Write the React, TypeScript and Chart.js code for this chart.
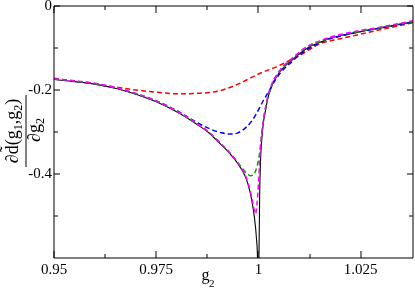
import React, { useEffect, useRef } from "react";
import { Chart, registerables } from "chart.js";
Chart.register(...registerables);

// Axis setup
const xMin = 0.95;
const xMax = 1.0378;
const yMin = -0.6;
const yMax = 0;
const xMajorTicks = [0.95, 0.975, 1.0, 1.025];
const xTickLabels = ["0.95", "0.975", "1", "1.025"];
const xMinorTicks = [0.9625, 0.9875, 1.0125];
const yMajorTicks = [0, -0.2, -0.4];
const yTickLabels = ["0", "-0.2", "-0.4"];
const yMinorTicks = [-0.1, -0.3, -0.5];

// Black solid curve
const blackG = [0.95, 0.955, 0.96, 0.965, 0.97, 0.975, 0.98, 0.985, 0.988, 0.99, 0.992, 0.994, 0.995, 0.996, 0.997, 0.998, 0.9985, 0.999, 0.9995, 0.9998, 1.0, 1.0001, 1.0003, 1.0005, 1.0008, 1.0012, 1.0018, 1.0024, 1.003, 1.0037, 1.0045, 1.0053, 1.0065, 1.0077, 1.009, 1.0105, 1.0125, 1.015, 1.0175, 1.02, 1.025, 1.03, 1.0378];
const blackV = [-0.175, -0.18, -0.186, -0.196, -0.21, -0.228, -0.252, -0.282, -0.303, -0.322, -0.341, -0.363, -0.376, -0.391, -0.411, -0.445, -0.47, -0.502, -0.552, -0.615, -0.8, -0.62, -0.45, -0.37, -0.32, -0.279, -0.245, -0.216, -0.198, -0.18, -0.168, -0.156, -0.143, -0.133, -0.122, -0.11, -0.097, -0.087, -0.077, -0.071, -0.061, -0.052, -0.038];

// Red dashed
const redG = [0.95, 0.955, 0.96, 0.965, 0.97, 0.975, 0.98, 0.985, 0.99, 0.995, 1.0, 1.005, 1.01, 1.015, 1.02, 1.025, 1.03, 1.0378];
const redV = [-0.172, -0.179, -0.186, -0.193, -0.2, -0.205, -0.209, -0.208, -0.203, -0.186, -0.162, -0.142, -0.118, -0.09, -0.078, -0.067, -0.056, -0.04];

// Blue dashed
const blueG = [0.95, 0.955, 0.96, 0.965, 0.97, 0.975, 0.98, 0.984, 0.988, 0.991, 0.9931, 0.995, 0.9972, 0.9985, 0.9996, 1.0004, 1.0012, 1.002, 1.0037, 1.0053, 1.0077, 1.01, 1.0125, 1.015, 1.0175, 1.02, 1.025, 1.03, 1.0378];
const blueV = [-0.174, -0.179, -0.185, -0.195, -0.209, -0.226, -0.249, -0.272, -0.292, -0.302, -0.305, -0.302, -0.287, -0.272, -0.255, -0.24, -0.225, -0.212, -0.183, -0.16, -0.137, -0.117, -0.1, -0.088, -0.078, -0.072, -0.061, -0.052, -0.038];

// Green dashed
const greenG = [0.95, 0.955, 0.96, 0.965, 0.97, 0.975, 0.98, 0.985, 0.988, 0.99, 0.992, 0.994, 0.995, 0.996, 0.997, 0.998, 0.9987, 0.9993, 1.0, 1.0005, 1.0008, 1.0012, 1.0018, 1.0024, 1.003, 1.0037, 1.0045, 1.0053, 1.0065, 1.0077, 1.009, 1.0105, 1.0125, 1.015, 1.0175, 1.02, 1.025, 1.03, 1.0378];
const greenV = [-0.174, -0.179, -0.185, -0.195, -0.209, -0.227, -0.251, -0.281, -0.302, -0.32, -0.34, -0.361, -0.373, -0.386, -0.397, -0.404, -0.402, -0.393, -0.367, -0.335, -0.305, -0.274, -0.24, -0.213, -0.195, -0.178, -0.166, -0.154, -0.141, -0.131, -0.12, -0.108, -0.095, -0.085, -0.076, -0.07, -0.06, -0.051, -0.037];

// Magenta dashed
const magentaG = [0.95, 0.955, 0.96, 0.965, 0.97, 0.975, 0.98, 0.985, 0.988, 0.99, 0.992, 0.994, 0.995, 0.996, 0.997, 0.998, 0.9986, 0.999, 0.9993, 0.9996, 1.0, 1.0004, 1.0008, 1.0012, 1.0018, 1.0024, 1.003, 1.0037, 1.0045, 1.0053, 1.0065, 1.0077, 1.009, 1.0105, 1.0125, 1.015, 1.0175, 1.02, 1.025, 1.03, 1.0378];
const magentaV = [-0.173, -0.178, -0.184, -0.194, -0.208, -0.226, -0.25, -0.28, -0.301, -0.32, -0.339, -0.361, -0.374, -0.389, -0.408, -0.44, -0.467, -0.486, -0.495, -0.476, -0.425, -0.35, -0.305, -0.272, -0.238, -0.211, -0.193, -0.176, -0.164, -0.152, -0.139, -0.129, -0.118, -0.106, -0.093, -0.083, -0.074, -0.068, -0.058, -0.05, -0.035];

const SERIF = "'Liberation Serif', 'Times New Roman', serif";

const toPts = (g: number[], v: number[]) => g.map((x, i) => ({ x, y: v[i] }));

const decorPlugin = {
  id: "decor",
  afterDraw(chart: any) {
    const { ctx, chartArea: a, scales } = chart;
    const xs = scales.x;
    const ys = scales.y;
    const L = Math.round(a.left);
    const R = Math.round(a.right);
    const T = Math.round(a.top);
    const B = Math.round(a.bottom);
    ctx.save();
    ctx.strokeStyle = "#000";
    ctx.lineWidth = 1;
    ctx.beginPath();
    ctx.rect(L, T, R - L, B - T);
    ctx.stroke();
    ctx.beginPath();
    const seg = (x1: number, y1: number, x2: number, y2: number) => {
      ctx.moveTo(x1, y1);
      ctx.lineTo(x2, y2);
    };
    xMajorTicks.forEach((v) => {
      const p = Math.round(xs.getPixelForValue(v));
      seg(p, B, p, B - 7);
      seg(p, T, p, T + 7);
    });
    xMinorTicks.forEach((v) => {
      const p = Math.round(xs.getPixelForValue(v));
      seg(p, B, p, B - 4);
      seg(p, T, p, T + 4);
    });
    yMajorTicks.forEach((v) => {
      const p = Math.round(ys.getPixelForValue(v));
      seg(L, p, L + 6, p);
      seg(R, p, R - 6, p);
    });
    yMinorTicks.forEach((v) => {
      const p = Math.round(ys.getPixelForValue(v));
      seg(L, p, L + 4, p);
      seg(R, p, R - 4, p);
    });
    ctx.stroke();

    // x title: g_2
    ctx.fillStyle = "#000";
    ctx.textBaseline = "alphabetic";
    ctx.textAlign = "left";
    ctx.font = `16px ${SERIF}`;
    ctx.fillText("g", 201.5, 279.5);
    ctx.font = `11px ${SERIF}`;
    ctx.fillText("2", 209, 287);

    // y title: fraction, rotated
    ctx.save();
    ctx.translate(25.5, 131);
    ctx.rotate(-Math.PI / 2);
    const big = `18px ${SERIF}`;
    const small = `12px ${SERIF}`;
    const numParts: [string, string, number][] = [
      ["\u2202d\u0303(g", big, 0],
      ["1", small, 4],
      [",g", big, 0],
      ["2", small, 4],
      [")", big, 0],
    ];
    let w = 0;
    numParts.forEach(([t, f]) => {
      ctx.font = f;
      w += ctx.measureText(t).width;
    });
    let cx = -w / 2;
    numParts.forEach(([t, f, dy]) => {
      ctx.font = f;
      ctx.fillText(t, cx, -8 + dy);
      cx += ctx.measureText(t).width;
    });
    ctx.beginPath();
    ctx.moveTo(-36, 0.5);
    ctx.lineTo(36, 0.5);
    ctx.stroke();
    const denParts: [string, string, number][] = [
      ["\u2202g", big, 0],
      ["2", small, 4],
    ];
    w = 0;
    denParts.forEach(([t, f]) => {
      ctx.font = f;
      w += ctx.measureText(t).width;
    });
    cx = -w / 2 + 1;
    denParts.forEach(([t, f, dy]) => {
      ctx.font = f;
      ctx.fillText(t, cx, 14 + dy);
      cx += ctx.measureText(t).width;
    });
    ctx.restore();
    ctx.restore();
  },
};

export default function App() {
  const ref = useRef<HTMLCanvasElement | null>(null);
  useEffect(() => {
    document.body.style.margin = "0";
    if (!ref.current) return;
    const dashed = (data: any, color: string, order: number) => ({
      data,
      borderColor: color,
      borderWidth: 1.5,
      borderDash: [5, 3],
      pointRadius: 0,
      showLine: true,
      fill: false,
      cubicInterpolationMode: "monotone",
      order,
    });
    const chart = new Chart(ref.current, {
      type: "scatter",
      data: {
        datasets: [
          {
            data: toPts(blackG, blackV),
            borderColor: "#000",
            borderWidth: 1.1,
            pointRadius: 0,
            showLine: true,
            fill: false,
            cubicInterpolationMode: "monotone",
            order: 4,
          } as any,
          dashed(toPts(redG, redV), "#ff0000", 3),
          dashed(toPts(blueG, blueV), "#0000ff", 2),
          dashed(toPts(greenG, greenV), "#00a000", 1),
          dashed(toPts(magentaG, magentaV), "#ff00ff", 0),
        ],
      },
      options: {
        animation: false,
        responsive: false,
        devicePixelRatio: 1,
        layout: { padding: { top: 6, right: 2, left: 0, bottom: 0 } },
        plugins: { legend: { display: false }, tooltip: { enabled: false } },
        scales: {
          x: {
            type: "linear",
            min: xMin,
            max: xMax,
            grid: { display: false, drawTicks: false },
            border: { display: false },
            afterBuildTicks: (s: any) => {
              s.ticks = xMajorTicks.map((v) => ({ value: v }));
            },
            afterFit: (s: any) => {
              s.height = 32;
              s.paddingLeft = 0;
              s.paddingRight = 0;
            },
            ticks: {
              autoSkip: false,
              maxRotation: 0,
              padding: 3,
              color: "#000",
              font: { family: SERIF, size: 15 },
              callback: (_v: any, i: number) => xTickLabels[i],
            },
          },
          y: {
            type: "linear",
            min: yMin,
            max: yMax,
            grid: { display: false, drawTicks: false },
            border: { display: false },
            afterBuildTicks: (s: any) => {
              s.ticks = yMajorTicks.map((v) => ({ value: v }));
            },
            afterFit: (s: any) => {
              s.width = 54;
              s.paddingTop = 0;
              s.paddingBottom = 0;
            },
            ticks: {
              autoSkip: false,
              padding: 2,
              color: "#000",
              font: { family: SERIF, size: 15 },
              callback: (_v: any, i: number) => yTickLabels[i],
            },
          },
        },
      } as any,
      plugins: [decorPlugin],
    });
    return () => chart.destroy();
  }, []);
  return (
    <div style={{ position: "absolute", left: 0, top: 0, width: 415, height: 290, background: "#fff" }}>
      <canvas ref={ref} width={415} height={290} style={{ width: 415, height: 290 }} />
    </div>
  );
}
